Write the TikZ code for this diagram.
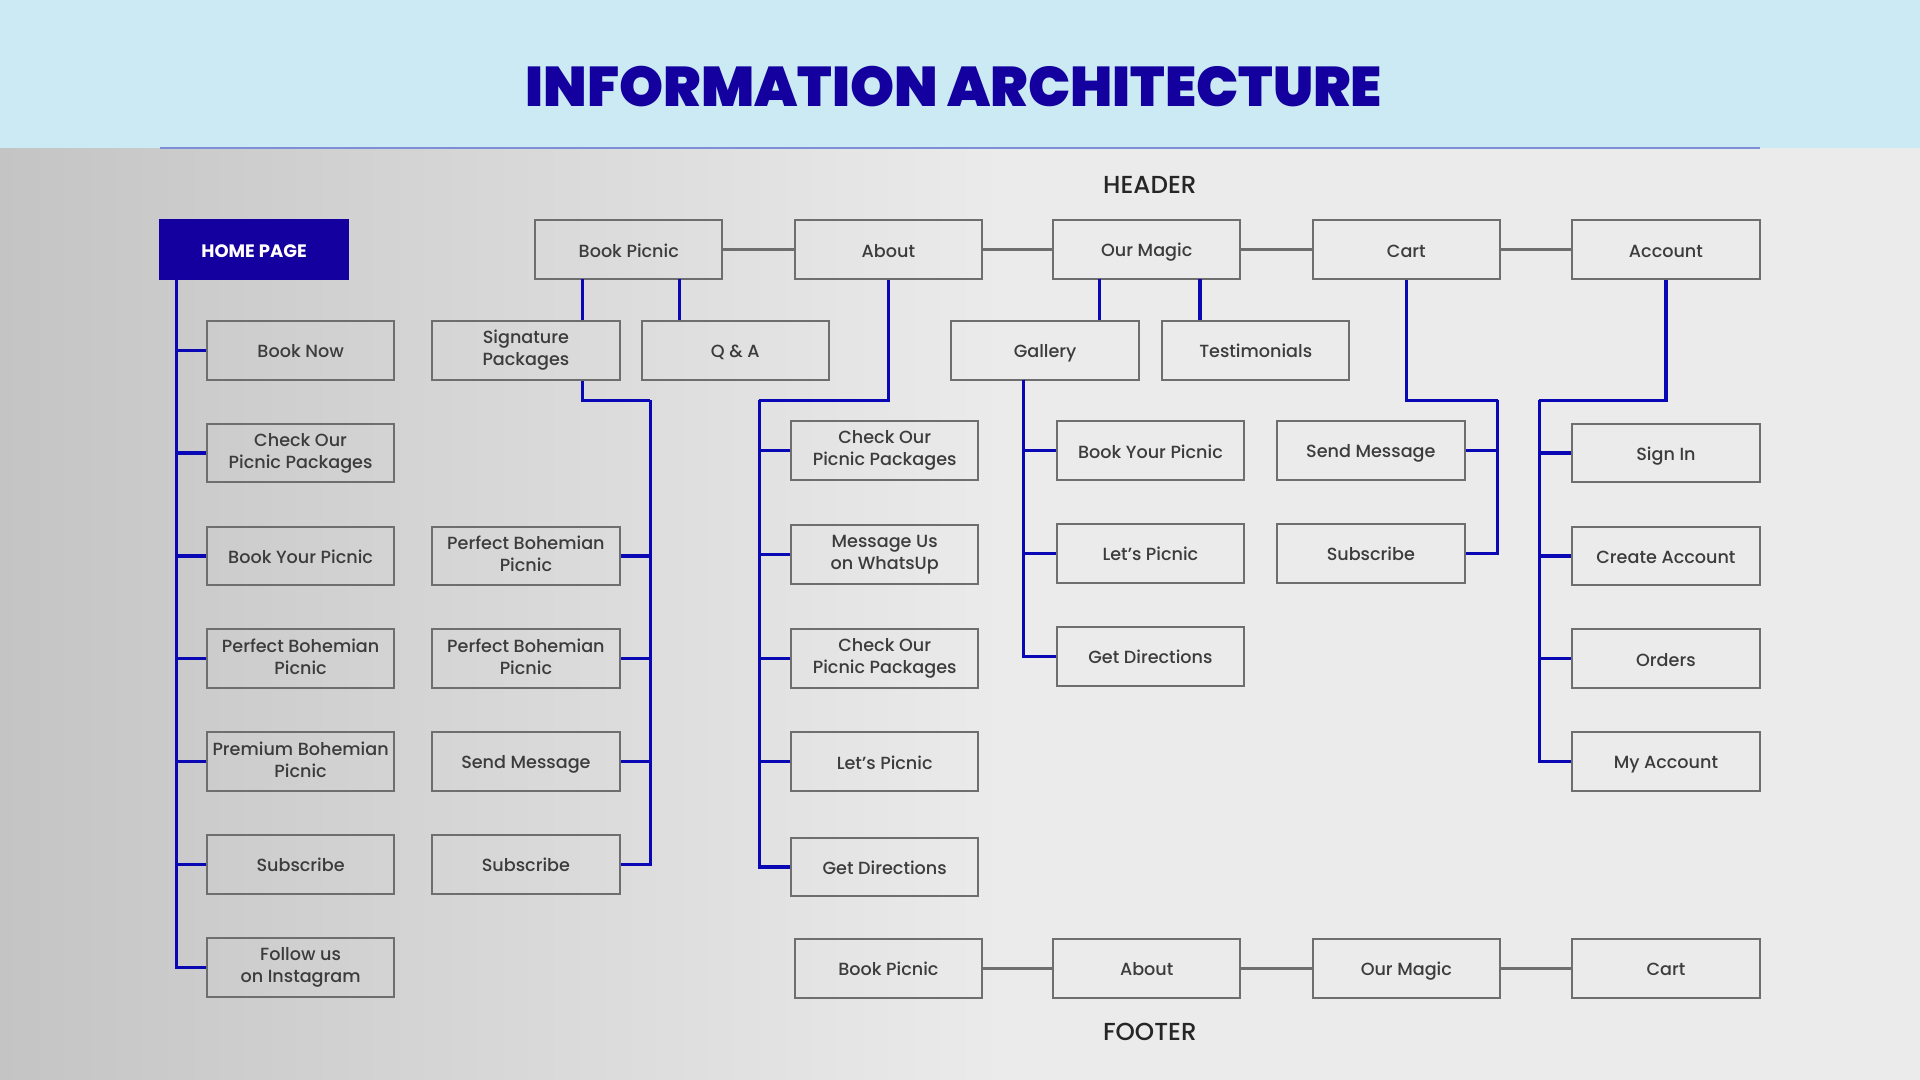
\documentclass[tikz,border=0pt]{standalone}
\usepackage{fontspec}
\setmainfont{Poppins}[UprightFont=* Medium, BoldFont=* Bold]
\newfontfamily\titlefont{Poppins}[UprightFont=* Black]
\usetikzlibrary{positioning}
\definecolor{SkyBand}{HTML}{CBEAF3}
\definecolor{Wall}{HTML}{EBEBEB}
\definecolor{WallShade}{HTML}{C4C4C4}
\definecolor{DBlue}{HTML}{14009E}
\definecolor{LinkBlue}{HTML}{0A08B4}
\definecolor{RuleBlue}{HTML}{7D8FD9}
\definecolor{BoxGray}{HTML}{6E6E6E}
\definecolor{TextGray}{HTML}{3C3C3C}
\newcommand{\boxstrut}{\rule[-2pt]{0pt}{11.4pt}}
\tikzset{
    item/.style={draw=BoxGray, line width=1pt, minimum width=93.7pt, minimum height=29.4pt,
        inner sep=1pt, align=center, text=TextGray, font=\fontsize{8.8}{11}\selectfont,
        execute at begin node=\boxstrut, execute at end node=\boxstrut},
    homebox/.style={item, fill=DBlue, draw=DBlue, text=white, font=\fontsize{9}{11}\selectfont\bfseries},
    areaname/.style={text=black!85, font=\fontsize{12.3}{14}\selectfont},
    link/.style={LinkBlue, line width=1.6pt},
    bar/.style={BoxGray, line width=1.6pt},
}
\begin{document}
\begin{tikzpicture}[x=0.6122pt, y=-0.6122pt]

    \useasboundingbox (0,0) rectangle (1568,882);

    % backdrop
    \fill[SkyBand] (0,0) rectangle (1568,121);
    \fill[Wall] (0,121) rectangle (1568,882);
    \shade[left color=WallShade, right color=Wall] (0,121) rectangle (820,882);
    \draw[RuleBlue, line width=1.2pt] (131,121) -- (1437,121);

    \node[text=DBlue, font=\fontsize{28}{31}\selectfont\titlefont] (title) at (779,71) {INFORMATION ARCHITECTURE};
    \node[areaname] (headername) at (939,151) {HEADER};
    \node[areaname] (footername) at (939,843) {FOOTER};

    % header row
    \node[homebox] (home) at (207.5,204) {HOME PAGE};
    \node[item] (bookpicnic) at (513.5,204) {Book Picnic};
    \node[item] (about) at (725.5,204) {About};
    \node[item] (ourmagic) at (936.5,204) {Our Magic};
    \node[item] (cart) at (1148.5,204) {Cart};
    \node[item] (account) at (1360.5,204) {Account};
    \foreach \a/\b in {bookpicnic/about, about/ourmagic, ourmagic/cart, cart/account}
        \draw[bar] (\a) -- (\b);

    % home page
    \node[item] (h1) at (245.5,286) {Book Now};
    \node[item] (h2) at (245.5,370) {Check Our\\Picnic Packages};
    \node[item] (h3) at (245.5,454) {Book Your Picnic};
    \node[item] (h4) at (245.5,538) {Perfect Bohemian\\Picnic};
    \node[item] (h5) at (245.5,622) {Premium Bohemian\\Picnic};
    \node[item] (h6) at (245.5,706) {Subscribe};
    \node[item] (h7) at (245.5,790) {Follow us\\on Instagram};
    \coordinate (homebus) at (144,228);
    \foreach \n in {h1,h2,h3,h4,h5,h6,h7}
        \draw[link] (homebus) |- (\n.west);

    % book picnic
    \node[item] (sig) at (429.5,286) {Signature\\Packages};
    \node[item] (qa) at (600.5,286) {Q \& A};
    \node[item] (s1) at (429.5,454) {Perfect Bohemian\\Picnic};
    \node[item] (s2) at (429.5,538) {Perfect Bohemian\\Picnic};
    \node[item] (s3) at (429.5,622) {Send Message};
    \node[item] (s4) at (429.5,706) {Subscribe};
    \coordinate (bpleft) at (476,228);
    \coordinate (bpright) at (555,228);
    \coordinate (sigbus) at (531,327);
    \draw[link] (bpleft) -- (bpleft |- sig.north);
    \draw[link] (bpright) -- (bpright |- qa.north);
    \draw[link] (bpleft |- sig.south) |- (sigbus);
    \foreach \n in {s1,s2,s3,s4}
        \draw[link] (sigbus) |- (\n.east);

    % about
    \node[item] (a1) at (722.5,368) {Check Our\\Picnic Packages};
    \node[item] (a2) at (722.5,453) {Message Us\\on WhatsUp};
    \node[item] (a3) at (722.5,538) {Check Our\\Picnic Packages};
    \node[item] (a4) at (722.5,622) {Let's Picnic};
    \node[item] (a5) at (722.5,708) {Get Directions};
    \coordinate (aboutbus) at (620,327);
    \draw[link] (about.south) |- (aboutbus);
    \foreach \n in {a1,a2,a3,a4,a5}
        \draw[link] (aboutbus) |- (\n.west);

    % our magic
    \node[item] (gallery) at (853.5,286) {Gallery};
    \node[item] (testimonials) at (1025.5,286) {Testimonials};
    \node[item] (g1) at (939.5,368) {Book Your Picnic};
    \node[item] (g2) at (939.5,452) {Let's Picnic};
    \node[item] (g3) at (939.5,536) {Get Directions};
    \coordinate (omleft) at (898,228);
    \coordinate (omright) at (980,228);
    \coordinate (gallerybus) at (836,310);
    \draw[link] (omleft) -- (omleft |- gallery.north);
    \draw[link] (omright) -- (omright |- testimonials.north);
    \foreach \n in {g1,g2,g3}
        \draw[link] (gallerybus) |- (\n.west);

    % cart
    \node[item] (c1) at (1119.5,368) {Send Message};
    \node[item] (c2) at (1119.5,452) {Subscribe};
    \coordinate (cartbus) at (1223,327);
    \draw[link] (cart.south) |- (cartbus);
    \foreach \n in {c1,c2}
        \draw[link] (cartbus) |- (\n.east);

    % account
    \node[item] (u1) at (1360.5,370) {Sign In};
    \node[item] (u2) at (1360.5,454) {Create Account};
    \node[item] (u3) at (1360.5,538) {Orders};
    \node[item] (u4) at (1360.5,622) {My Account};
    \coordinate (accountbus) at (1257,327);
    \draw[link] (account.south) |- (accountbus);
    \foreach \n in {u1,u2,u3,u4}
        \draw[link] (accountbus) |- (\n.west);

    % footer row
    \node[item] (f1) at (725.5,791) {Book Picnic};
    \node[item] (f2) at (936.5,791) {About};
    \node[item] (f3) at (1148.5,791) {Our Magic};
    \node[item] (f4) at (1360.5,791) {Cart};
    \foreach \a/\b in {f1/f2, f2/f3, f3/f4}
        \draw[bar] (\a) -- (\b);
\end{tikzpicture}
\end{document}
